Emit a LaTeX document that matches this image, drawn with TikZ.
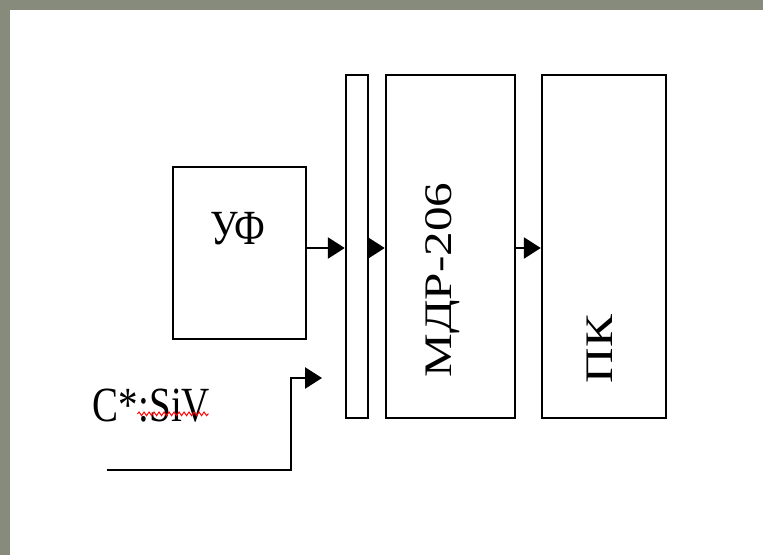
\documentclass[tikz,border=0pt]{standalone}
\usepackage{fontspec}
\setmainfont{Liberation Serif}
\usetikzlibrary{arrows.meta,decorations.pathmorphing}
\definecolor{frame}{RGB}{134,139,124}
\begin{document}
\begin{tikzpicture}[x=1pt,y=-1pt,
  blockbox/.style={draw=black, line width=2.4pt, inner sep=0pt, fill=white},
  lbl/.style={inner sep=0pt, font=\fontsize{39}{40}\selectfont},
  conn/.style={line width=2.6pt, draw=black},
  arr/.style={conn, -{Triangle[length=17pt,width=21pt]}}]
  \useasboundingbox (0,0) rectangle (763,555);
  \fill[frame] (0,0) rectangle (763,555);
  \fill[white] (10,10) rectangle (763,555);

  \node[blockbox, minimum width=133pt, minimum height=172pt] (uf) at (239.5,253) {};
  \node[blockbox, minimum width=22pt, minimum height=343pt] (thin) at (357,246.5) {};
  \node[blockbox, minimum width=129pt, minimum height=343pt] (mdr) at (450.5,246.5) {};
  \node[blockbox, minimum width=124pt, minimum height=343pt] (pk) at (604,246.5) {};

  \node[lbl] (uftext) at (238,229) {\scalebox{1}[1.26]{УФ}};
  \node[lbl] (mdrtext) at (443,280) {\rotatebox{90}{\scalebox{1.26}[1]{МДР-206}}};
  \node[lbl] (pktext) at (600,349) {\rotatebox{90}{\scalebox{1.26}[1]{ПК}}};
  \node[lbl] (civ) at (151.5,406) {\scalebox{1}[1.26]{C*:SiV}};

  \draw[red, line width=1pt, decorate, decoration={snake, amplitude=1.8pt, segment length=5pt}]
    ([xshift=-14pt,yshift=9pt]civ.south) -- ([xshift=57pt,yshift=9pt]civ.south);

  \draw[arr] (uf.east |- 0,248) -- (thin.west |- 0,248);
  \draw[arr] (thin.east |- 0,248) -- (mdr.west |- 0,248);
  \draw[arr] (mdr.east |- 0,248) -- (pk.west |- 0,248);

  \coordinate (start) at (107,470);
  \coordinate (tip) at (322,378);
  \draw[arr] (start) -- (291,470) -- (291,378) -- (tip);
\end{tikzpicture}
\end{document}
